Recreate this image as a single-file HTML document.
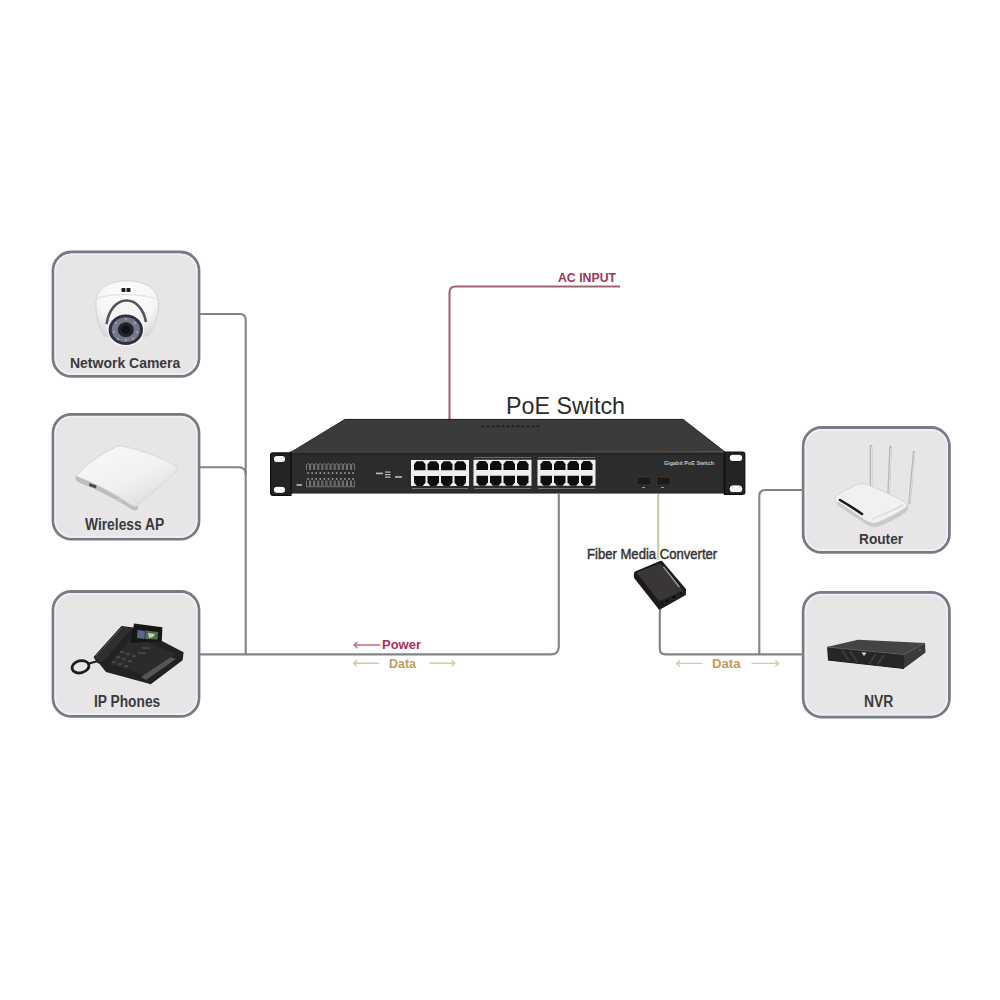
<!DOCTYPE html>
<html>
<head>
<meta charset="utf-8">
<style>
html,body{margin:0;padding:0;background:#ffffff;}
body{width:1000px;height:1000px;position:relative;overflow:hidden;font-family:"Liberation Sans",sans-serif;}
svg{position:absolute;left:0;top:0;}
.t{position:absolute;white-space:nowrap;line-height:1;transform-origin:0 0;}
.lbl{font-weight:700;color:#3a3a3c;font-size:15px;}
</style>
</head>
<body>
<svg width="1000" height="1000" viewBox="0 0 1000 1000">
  <!-- device boxes -->
  <g fill="#e8e5e7" stroke="#787a84" stroke-width="2.8">
    <rect x="53" y="252" width="146" height="124.4" rx="18.5"/>
    <rect x="53" y="414.4" width="146" height="124.8" rx="18.5"/>
    <rect x="53" y="591.5" width="146" height="124.9" rx="18.5"/>
    <rect x="803.2" y="427.5" width="146.2" height="124.9" rx="18.5"/>
    <rect x="803.2" y="592.4" width="146.2" height="124.6" rx="18.5"/>
  </g>
  <g fill="none" stroke="#f0f0f7" stroke-width="1.6">
    <rect x="55.3" y="254.3" width="141.4" height="119.80000000000001" rx="16.2"/>
    <rect x="55.3" y="416.7" width="141.4" height="120.2" rx="16.2"/>
    <rect x="55.3" y="593.8" width="141.4" height="120.30000000000001" rx="16.2"/>
    <rect x="805.5" y="429.8" width="141.6" height="120.30000000000001" rx="16.2"/>
    <rect x="805.5" y="594.6999999999999" width="141.6" height="120.0" rx="16.2"/>
  </g>
  <!-- connection lines -->
  <g fill="none" stroke="#848484" stroke-width="2.1">
    <path d="M199,314 H239.8 Q245.7,314 245.7,320 V654.4"/>
    <path d="M199,467.3 H238.8 Q245.7,467.3 245.7,474.5"/>
    <path d="M199,654.4 H551 Q558.8,654.4 558.8,646.5 V494"/>
    <path d="M659.8,607 V648.5 Q659.8,654.4 665.7,654.4 H803"/>
    <path d="M803,490 H765.3 Q759.3,490 759.3,496 V654.4"/>
  </g>
  <path d="M620,286.5 H455.5 Q449.5,286.5 449.5,292.5 V419.5" fill="none" stroke="#a06470" stroke-width="2.1"/>
  <!-- ===== PoE switch ===== -->
  <defs>
    <linearGradient id="topg" x1="0" y1="0" x2="0" y2="1">
      <stop offset="0" stop-color="#3b3b3b"/>
      <stop offset="1" stop-color="#2e2e2e"/>
    </linearGradient>
    <g id="blk">
      <rect x="0" y="0" width="58" height="26" fill="#f0f0f0"/>
      <g fill="#0d0d0d">
        <path d="M3,4.5 L5.5,1.3 H12.0 L14.5,4.5 V10.3 H3 Z"/>
        <path d="M16.5,4.5 L19.0,1.3 H25.5 L28.0,4.5 V10.3 H16.5 Z"/>
        <path d="M30,4.5 L32.5,1.3 H39.0 L41.5,4.5 V10.3 H30 Z"/>
        <path d="M43.5,4.5 L46.0,1.3 H52.5 L55.0,4.5 V10.3 H43.5 Z"/>
        <path d="M3,16 H14.5 V22.5 L11.7,26 H5.8 L3,22.5 Z"/>
        <path d="M16.5,16 H28.0 V22.5 L25.2,26 H19.3 L16.5,22.5 Z"/>
        <path d="M30,16 H41.5 V22.5 L38.7,26 H32.8 L30,22.5 Z"/>
        <path d="M43.5,16 H55.0 V22.5 L52.2,26 H46.3 L43.5,22.5 Z"/>
      </g>
    </g>
  </defs>
  <polygon points="345,419 683,419 724.6,451.6 290.2,452.6" fill="#3b3b3b"/>
  <path d="M345,419.4 H683" stroke="#262626" stroke-width="1"/>
  <path d="M345,419.4 L290.2,452.6 M683,419.4 L724.6,451.6" stroke="#2a2a2a" stroke-width="0.8"/>
  <rect x="290.2" y="451.8" width="434.4" height="41.8" fill="#2c2c2c"/>
  <path d="M290.2,451.9 H724.6" stroke="#454545" stroke-width="1.2"/>
  <path d="M290.2,454.4 H724.6" stroke="#222222" stroke-width="1.4"/>
  <path d="M291,453 V493.6 M723.8,453 V493.6" stroke="#1e1e1e" stroke-width="1.4"/>
  <!-- ears -->
  <path d="M273,452.9 H291 V495.3 H273 Q270.6,495.3 270.6,493 V455.3 Q270.6,452.9 273,452.9 Z" fill="#242424" stroke="#0e0e0e" stroke-width="1.2"/>
  <path d="M724.6,452 H742.5 Q744.8,452 744.8,454.3 V492 Q744.8,494.3 742.5,494.3 H724.6 Z" fill="#242424" stroke="#0e0e0e" stroke-width="1.2"/>
  <g fill="#fbfbfb" stroke="#0a0a0a" stroke-width="1">
    <rect x="273.2" y="455.4" width="12.5" height="7.3" rx="3.6"/>
    <rect x="273.2" y="486.2" width="12.5" height="7.2" rx="3.6"/>
    <rect x="729" y="454.2" width="13.9" height="7.4" rx="3.7"/>
    <rect x="729" y="484.8" width="13.9" height="8" rx="3.9"/>
  </g>
  <!-- vents -->
  <g fill="#1e1e1e">
    <rect x="481.5" y="425.4" width="3" height="1.8"/>
    <rect x="486.5" y="425.4" width="3" height="1.8"/>
    <rect x="491.5" y="425.4" width="3" height="1.8"/>
    <rect x="496.5" y="425.4" width="3" height="1.8"/>
    <rect x="501.5" y="425.4" width="3" height="1.8"/>
    <rect x="506.5" y="425.4" width="3" height="1.8"/>
    <rect x="511.5" y="425.4" width="3" height="1.8"/>
    <rect x="516.5" y="425.4" width="3" height="1.8"/>
    <rect x="521.5" y="425.4" width="3" height="1.8"/>
    <rect x="526.5" y="425.4" width="3" height="1.8"/>
    <rect x="531.5" y="425.4" width="3" height="1.8"/>
    <rect x="536.5" y="425.4" width="3" height="1.8"/>
  </g>
  <!-- led panel -->
  <g fill="none" stroke="#a8a8a8" stroke-width="0.6">
    <path d="M306.5,470 V464.6 Q306.5,463.8 308.0,463.8 Q309.5,463.8 309.5,464.6 V470 M310.6,470 V464.6 Q310.6,463.8 312.1,463.8 Q313.6,463.8 313.6,464.6 V470 M314.7,470 V464.6 Q314.7,463.8 316.2,463.8 Q317.7,463.8 317.7,464.6 V470 M318.8,470 V464.6 Q318.8,463.8 320.3,463.8 Q321.8,463.8 321.8,464.6 V470 M322.9,470 V464.6 Q322.9,463.8 324.4,463.8 Q325.9,463.8 325.9,464.6 V470 M327.0,470 V464.6 Q327.0,463.8 328.5,463.8 Q330.0,463.8 330.0,464.6 V470 M331.1,470 V464.6 Q331.1,463.8 332.6,463.8 Q334.1,463.8 334.1,464.6 V470 M335.2,470 V464.6 Q335.2,463.8 336.7,463.8 Q338.2,463.8 338.2,464.6 V470 M339.3,470 V464.6 Q339.3,463.8 340.8,463.8 Q342.3,463.8 342.3,464.6 V470 M343.4,470 V464.6 Q343.4,463.8 344.9,463.8 Q346.4,463.8 346.4,464.6 V470 M347.5,470 V464.6 Q347.5,463.8 349.0,463.8 Q350.5,463.8 350.5,464.6 V470 M351.6,470 V464.6 Q351.6,463.8 353.1,463.8 Q354.6,463.8 354.6,464.6 V470 "/>
    <path d="M306.5,480.5 V486.8 H309.5 V480.5 M310.6,480.5 V486.8 H313.6 V480.5 M314.7,480.5 V486.8 H317.7 V480.5 M318.8,480.5 V486.8 H321.8 V480.5 M322.9,480.5 V486.8 H325.9 V480.5 M327.0,480.5 V486.8 H330.0 V480.5 M331.1,480.5 V486.8 H334.1 V480.5 M335.2,480.5 V486.8 H338.2 V480.5 M339.3,480.5 V486.8 H342.3 V480.5 M343.4,480.5 V486.8 H346.4 V480.5 M347.5,480.5 V486.8 H350.5 V480.5 M351.6,480.5 V486.8 H354.6 V480.5 "/>
  </g>
  <g fill="#bdbdbd">
    <rect x="307.2" y="472.4" width="1.6" height="1.3"/><rect x="307.2" y="478.3" width="1.6" height="1.3"/>
    <rect x="311.3" y="472.4" width="1.6" height="1.3"/><rect x="311.3" y="478.3" width="1.6" height="1.3"/>
    <rect x="315.4" y="472.4" width="1.6" height="1.3"/><rect x="315.4" y="478.3" width="1.6" height="1.3"/>
    <rect x="319.5" y="472.4" width="1.6" height="1.3"/><rect x="319.5" y="478.3" width="1.6" height="1.3"/>
    <rect x="323.6" y="472.4" width="1.6" height="1.3"/><rect x="323.6" y="478.3" width="1.6" height="1.3"/>
    <rect x="327.7" y="472.4" width="1.6" height="1.3"/><rect x="327.7" y="478.3" width="1.6" height="1.3"/>
    <rect x="331.8" y="472.4" width="1.6" height="1.3"/><rect x="331.8" y="478.3" width="1.6" height="1.3"/>
    <rect x="335.9" y="472.4" width="1.6" height="1.3"/><rect x="335.9" y="478.3" width="1.6" height="1.3"/>
    <rect x="340.0" y="472.4" width="1.6" height="1.3"/><rect x="340.0" y="478.3" width="1.6" height="1.3"/>
    <rect x="344.1" y="472.4" width="1.6" height="1.3"/><rect x="344.1" y="478.3" width="1.6" height="1.3"/>
    <rect x="348.2" y="472.4" width="1.6" height="1.3"/><rect x="348.2" y="478.3" width="1.6" height="1.3"/>
    <rect x="352.3" y="472.4" width="1.6" height="1.3"/><rect x="352.3" y="478.3" width="1.6" height="1.3"/>
    <rect x="296.5" y="484.2" width="5.5" height="1.6"/>
    <rect x="376" y="472.6" width="7" height="1.6"/>
    <rect x="385" y="471.5" width="5.5" height="1.2"/><rect x="385" y="474" width="5.5" height="1.2"/><rect x="385" y="476.5" width="5.5" height="1.2"/>
    <rect x="395" y="476.2" width="7" height="1.6"/>
  </g>
  <use href="#blk" x="411" y="460"/>
  <use href="#blk" x="473.5" y="459.8"/>
  <use href="#blk" x="537.5" y="459.8"/>
  <g fill="#7a7a7a">
    <rect x="412" y="488" width="56" height="0.9"/>
    <rect x="474" y="488" width="57" height="0.9"/>
    <rect x="538" y="488" width="57" height="0.9"/>
    <rect x="474" y="457.2" width="57" height="0.8"/>
    <rect x="538" y="457.2" width="57" height="0.8"/>
  </g>
  <!-- SFP -->
  <g fill="#1b1b1b" stroke="#3e3e3e" stroke-width="0.7">
    <rect x="637" y="477" width="14" height="8"/>
    <rect x="656.5" y="477" width="14" height="8"/>
  </g>
  <g fill="#a0a0a0"><rect x="642" y="487" width="3" height="1"/><rect x="661" y="487" width="3" height="1"/></g>
  <text x="664" y="465.2" font-family="Liberation Sans" font-size="5.6" font-weight="700" fill="#c4c4c4" textLength="50" lengthAdjust="spacingAndGlyphs">Gigabit PoE Switch</text>
  <!-- arrows -->
  <g fill="none" stroke-width="1.4" stroke-linecap="round" stroke-linejoin="round">
    <path d="M379.7,645 H354 M357,642.3 L354,645 L357,647.7" stroke="#c46a8a"/>
    <path d="M378.5,663.2 H353.5 M356.5,660.5 L353.5,663.2 L356.5,665.9" stroke="#d8c8a4"/>
    <path d="M430,663.2 H455 M452,660.5 L455,663.2 L452,665.9" stroke="#d8c8a4"/>
    <path d="M701.8,663.4 H676.6 M679.6,660.7 L676.6,663.4 L679.6,666.1" stroke="#d8c8a4"/>
    <path d="M752,663.4 H778.6 M775.6,660.7 L778.6,663.4 L775.6,666.1" stroke="#d8c8a4"/>
  </g>
  <!-- ===== media converter ===== -->
  <path d="M635,571.5 L660,561 Q661.5,560.5 662.5,561.5 L685.5,588.5 Q686.5,590 686,592 L685.8,595 L661,609 Q659.5,610 658.5,609 L634.5,578.5 Q633.8,577.5 633.8,576 L634,573 Q634.2,572 635,571.5 Z" fill="#1a1a1a"/>
  <path d="M636.5,572.8 L660.3,563 L683.5,589.8 L659.5,601.5 Z" fill="#3a3636"/>
  <path d="M663.5,566.5 L679.5,587" stroke="#9a9898" stroke-width="1.8"/>
  <path d="M662.5,563.8 L682.5,589" stroke="#1e1c1c" stroke-width="1"/>
  <g fill="#0c0c0c" stroke="#4a4a4a" stroke-width="0.5">
    <path d="M664,600.5 L669,598 L669.5,601.5 L664.5,604 Z"/>
    <path d="M671.5,596.5 L676.5,594 L677,597.5 L672,600 Z"/>
    <path d="M678.5,593 L682.5,591 L683,594 L679,596 Z"/>
  </g>

  <!-- ===== camera ===== -->
  <defs>
    <radialGradient id="domeg" cx="0.5" cy="0.3" r="0.75">
      <stop offset="0" stop-color="#ffffff"/>
      <stop offset="0.6" stop-color="#f6f6f7"/>
      <stop offset="1" stop-color="#d9d9dc"/>
    </radialGradient>
  </defs>
  <path d="M95.8,304 C95.5,289 108,281 127,280.8 C146,281 158.5,289 158.5,304 C158.5,317 154,328 148,336 L104,336 C99,328 95.8,317 95.8,304 Z" fill="url(#domeg)" stroke="#cfcfd3" stroke-width="0.9"/>
  <path d="M97,299 C108,293 146,293 158,300" fill="none" stroke="#e2e2e6" stroke-width="1.2"/>
  <path d="M106.5,324 C109,309 117,300.5 126.5,300.5 C136,300.5 143.5,309 146,322" fill="none" stroke="#55555a" stroke-width="2.6"/>
  <path d="M108.5,326 C111,312 118,303 126.5,303 C135,303 141.5,312 144,324 L144,332 L108.5,332 Z" fill="#f5f5f6"/>
  <ellipse cx="125.8" cy="329.7" rx="18.6" ry="16.6" fill="#f7f7f8"/>
  <ellipse cx="125.8" cy="329.7" rx="17.2" ry="15.2" fill="#2e3040"/>
  <ellipse cx="125.8" cy="329.7" rx="14.2" ry="12.4" fill="#747688"/>
  <g fill="#9a9cac">
    <circle cx="116" cy="323" r="1.3"/><circle cx="135" cy="323" r="1.3"/><circle cx="114" cy="332" r="1.3"/><circle cx="137" cy="332" r="1.3"/>
    <circle cx="125.8" cy="319" r="1.3"/><circle cx="125.8" cy="340" r="1.3"/><circle cx="118" cy="339" r="1.3"/><circle cx="133" cy="339" r="1.3"/>
  </g>
  <ellipse cx="125.8" cy="329.7" rx="8" ry="7.4" fill="#23232c"/>
  <ellipse cx="125.8" cy="329.7" rx="4.5" ry="4.2" fill="#111116"/>
  <rect x="121.5" y="288" width="4" height="4" rx="0.8" fill="#1e1e1e"/><rect x="126.5" y="288" width="4" height="4" rx="0.8" fill="#1e1e1e"/>

  <!-- ===== wireless AP ===== -->
  <defs>
    <linearGradient id="apg" x1="0.2" y1="0.1" x2="0.8" y2="0.9">
      <stop offset="0" stop-color="#f7f7f7"/>
      <stop offset="0.55" stop-color="#f1f1f1"/>
      <stop offset="1" stop-color="#dedede"/>
    </linearGradient>
  </defs>
  <path d="M75.5,477 Q75,480 78,482 Q104,492 133,510 Q136,511 138,509 L137,505 Q104,486 76,475.5 Z" fill="#bdbdbd"/>
  <path d="M76,476 Q92,458 117,446.5 Q120,445.5 123,446.2 Q152,452.5 176.5,466 Q179,468 177,470.5 Q158,489 136,506 Q134.5,507 133,506 Q104,486.5 76,476 Z" fill="url(#apg)" stroke="#d2d2d2" stroke-width="0.8"/>
  <path d="M89.5,483 L96.5,485.5 L96,488.5 L89,486 Z" fill="#4a4a4a"/>
  <path d="M116,497 L122,500 L121,502 L115,499 Z" fill="#c8c8c8"/>

  <!-- ===== IP phone ===== -->
  <path d="M98,662 L103,661 L133,628 L162,641 L183,652 L182,660 L150,684 L106,672 Z" fill="#222222"/>
  <path d="M109,664 L134,636 L175,654 L148,676 Z" fill="#2b2b2b"/>
  <path d="M94,657 L121.5,626.5 L133,628 L104,662 L98,663 Z" fill="#2e2e2e" stroke="#1a1a1a" stroke-width="1"/>
  <path d="M96,656 L121.5,628" stroke="#555" stroke-width="1"/>
  <path d="M134,623.5 L162.4,627.3 L161.8,641 L130.5,643 Z" fill="#161616"/>
  <path d="M137.5,630 L145,631 L144.5,639 L137,638 Z" fill="#5a6690"/>
  <path d="M145.5,630.5 L158,632 L157.5,639.5 L145,639 Z" fill="#4e7048"/>
  <path d="M148,633 L155,634 L153,637 L149,638 Z" fill="#c8d0c0"/>
  <path d="M141,677 L171,657 L176,659 L146,680 Z" fill="#555555"/>
  <g fill="#444444">
    <rect x="120" y="651" width="4" height="2.2"/><rect x="126" y="653" width="4" height="2.2"/><rect x="132" y="655" width="4" height="2.2"/>
    <rect x="116" y="656" width="4" height="2.2"/><rect x="122" y="658" width="4" height="2.2"/><rect x="128" y="660" width="4" height="2.2"/>
    <rect x="112" y="661" width="4" height="2.2"/><rect x="118" y="663" width="4" height="2.2"/><rect x="124" y="665" width="4" height="2.2"/>
    <rect x="138" y="652" width="8" height="2"/><rect x="142" y="647" width="8" height="2"/>
  </g>
  <path d="M150,684 L182,660 L183,652" fill="none" stroke="#1c1c1c" stroke-width="1.2"/>
  <ellipse cx="80.5" cy="666.8" rx="8.6" ry="6" fill="none" stroke="#1c1c1c" stroke-width="2.8" transform="rotate(-14 80.5 666.8)"/>
  <path d="M89,663.5 L98,661" stroke="#1e1e1e" stroke-width="2.2"/>

  <!-- ===== router ===== -->
  <g stroke-linecap="round">
    <path d="M871,446 L871,488" stroke="#b6b6b9" stroke-width="2.5"/>
    <path d="M890.5,447 L888.5,496" stroke="#b6b6b9" stroke-width="2.5"/>
    <path d="M914,452 L909.5,503" stroke="#b6b6b9" stroke-width="2.5"/>
    <path d="M871.5,447 L871.5,487" stroke="#e6e6e8" stroke-width="0.9"/>
    <path d="M891,448 L889,495" stroke="#e6e6e8" stroke-width="0.9"/>
    <path d="M914.5,453 L910,502" stroke="#e6e6e8" stroke-width="0.9"/>
  </g>
  <path d="M835,498 Q834,502 838,505 Q853,516 868,525 Q873,528 879,526 Q895,520 906,512 Q909,509 907,504 L903,501 Q888,493 866,484 Q862,482.5 857,484.5 Q845,490 837,495 Z" fill="#f1f1f2" stroke="#cfcfd1" stroke-width="0.8"/>
  <path d="M838,505 Q853,516 868,525 Q873,528 879,526 Q895,520 906,512 Q909,509 907,504 L906,507 Q895,515 878,522 Q872,524 867,521 Q852,511 837,501 Z" fill="#cacacc"/>
  <path d="M840,500 Q852,507 862,514" fill="none" stroke="#1a1a1a" stroke-width="2.6" stroke-linecap="round"/>
  <path d="M872,519 Q888,513 903,505" fill="none" stroke="#d6d6d8" stroke-width="1.2"/>

  <!-- ===== NVR ===== -->
  <polygon points="827,647 858,639.8 925,643 904,654.5" fill="#444444"/>
  <polygon points="827,647 904,654.5 904,668.5 828,660" fill="#262626"/>
  <polygon points="904,654.5 925,643 925.5,652.5 904,668.5" fill="#3a3a3a"/>
  <path d="M827,647 L904,654.5 L925,643" fill="none" stroke="#5a5a5a" stroke-width="0.8"/>
  <g stroke="#3c3c3c" stroke-width="2">
    <path d="M842,650 L849,661"/><path d="M850,651 L857,662"/><path d="M876,654 L869,664"/><path d="M884,655 L877,665"/>
  </g>
  <path d="M861.5,652.2 L866.5,652.8 L864,656 Z" fill="#d8d8d8"/>
  <circle cx="920" cy="650" r="1.2" fill="#555"/>
  <path d="M828,660 L904,668.5" stroke="#1a1a1a" stroke-width="1"/>
  <path d="M658.2,494 V560" fill="none" stroke="#c6d2a0" stroke-width="2.2"/>
</svg>

<!--TEXT-->
<div class="t" style="left:506.06px;top:394.00px;font-size:24px;font-weight:400;color:#2b2b2b;transform:scaleX(0.970);">PoE Switch</div>
<div class="t" style="left:558.02px;top:272.00px;font-size:12.5px;font-weight:700;color:#9c3658;transform:scaleX(0.983);">AC INPUT</div>
<div class="t" style="left:587.07px;top:547.00px;font-size:14px;font-weight:400;color:#333333;-webkit-text-stroke:0.45px #333;transform:scaleX(0.935);">Fiber Media Converter</div>
<div class="t" style="left:69.50px;top:355.40px;font-size:15.5px;font-weight:700;color:#3a3a3c;transform:scaleX(0.902);">Network Camera</div>
<div class="t" style="left:84.50px;top:517.00px;font-size:16px;font-weight:700;color:#3a3a3c;transform:scaleX(0.863);">Wireless AP</div>
<div class="t" style="left:93.64px;top:693.50px;font-size:16px;font-weight:700;color:#3a3a3c;transform:scaleX(0.859);">IP Phones</div>
<div class="t" style="left:858.99px;top:531.00px;font-size:15px;font-weight:700;color:#3a3a3c;transform:scaleX(0.913);">Router</div>
<div class="t" style="left:863.88px;top:693.75px;font-size:16px;font-weight:700;color:#3a3a3c;transform:scaleX(0.867);">NVR</div>
<div class="t" style="left:382.00px;top:638.40px;font-size:13px;font-weight:700;color:#a8305c;transform:scaleX(1.000);">Power</div>
<div class="t" style="left:388.96px;top:658.30px;font-size:12px;font-weight:700;color:#c49c58;transform:scaleX(1.040);">Data</div>
<div class="t" style="left:711.50px;top:658.00px;font-size:12px;font-weight:700;color:#c49c58;transform:scaleX(1.096);">Data</div>
<!--/TEXT-->
</body>
</html>
